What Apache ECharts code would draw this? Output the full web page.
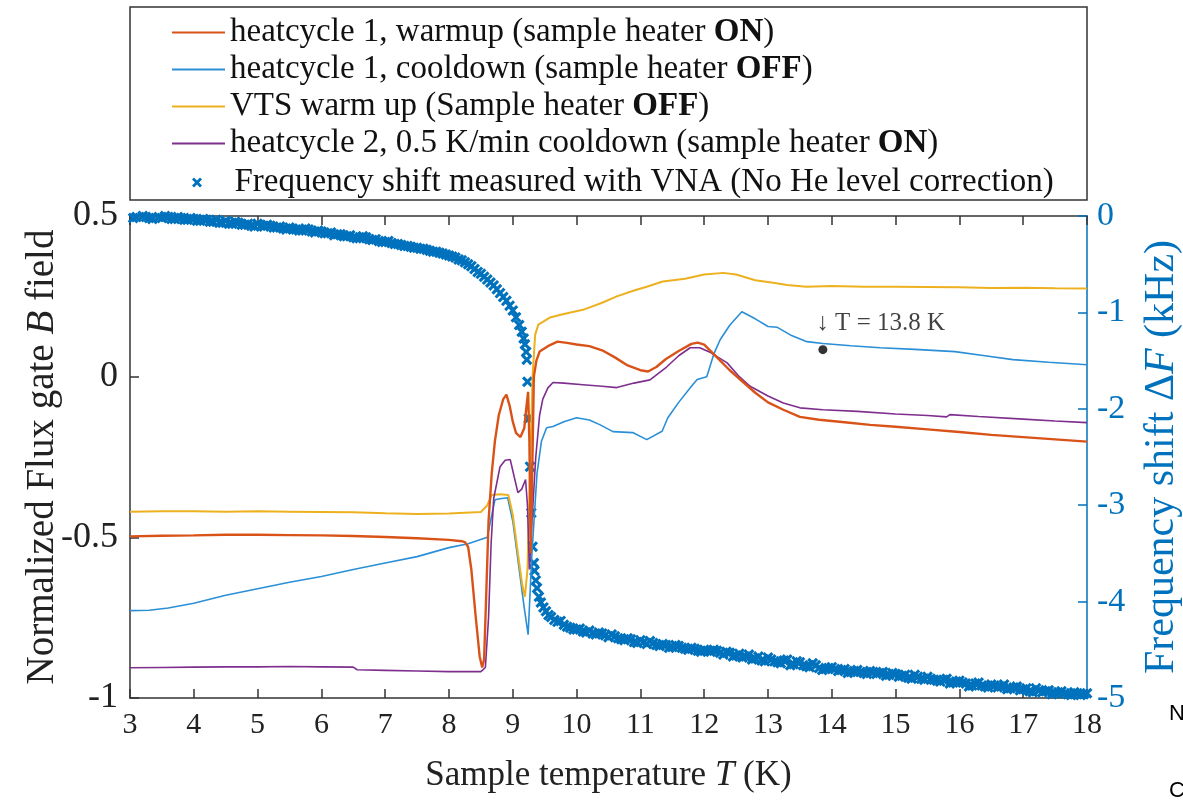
<!DOCTYPE html>
<html>
<head>
<meta charset="utf-8">
<script src="https://cdn.jsdelivr.net/npm/echarts@6/dist/echarts.min.js"></script>
<style>
html,body{margin:0;padding:0;background:#fff;}
#chart{width:1183px;height:803px;}
</style>
</head>
<body>
<div id="chart"></div>
<script>
// ---------- DATA ----------
const seriesNames = [
  'heatcycle 1, warmup (sample heater ON)',
  'heatcycle 1, cooldown (sample heater OFF)',
  'VTS warm up (Sample heater OFF)',
  'heatcycle 2, 0.5 K/min cooldown (sample heater ON)',
  'Frequency shift measured with VNA (No He level correction)'
];
const xTicks = [3,4,5,6,7,8,9,10,11,12,13,14,15,16,17,18];
const leftTicks = [-1,-0.5,0,0.5];
const rightTicks = [-5,-4,-3,-2,-1,0];

// heatcycle 1, warmup [T (K), normalized B]
const warmup1 = [[3.0,-0.497],[3.5,-0.495],[4.0,-0.494],[4.5,-0.492],[5.0,-0.492],[5.5,-0.493],[6.0,-0.494],[6.5,-0.496],[7.0,-0.499],[7.5,-0.503],[8.0,-0.508],[8.2,-0.512],[8.25,-0.515],[8.3,-0.53],[8.35,-0.6],[8.42,-0.75],[8.48,-0.87],[8.52,-0.905],[8.55,-0.88],[8.58,-0.7],[8.62,-0.45],[8.67,-0.3],[8.72,-0.2],[8.78,-0.12],[8.85,-0.07],[8.9,-0.056],[8.95,-0.09],[9.0,-0.14],[9.05,-0.175],[9.12,-0.188],[9.18,-0.16],[9.21,-0.1],[9.24,-0.047],[9.26,-0.2],[9.28,-0.55],[9.3,-0.35],[9.33,0.0],[9.37,0.05],[9.42,0.078],[9.55,0.095],[9.7,0.109],[9.85,0.105],[10.0,0.10],[10.2,0.095],[10.4,0.082],[10.6,0.06],[10.8,0.035],[11.0,0.02],[11.12,0.016],[11.25,0.03],[11.4,0.055],[11.6,0.08],[11.8,0.102],[11.9,0.106],[12.0,0.10],[12.2,0.06],[12.4,0.02],[12.6,-0.015],[12.8,-0.05],[13.0,-0.08],[13.24,-0.103],[13.5,-0.125],[13.8,-0.134],[14.2,-0.142],[14.6,-0.15],[15.0,-0.156],[15.5,-0.164],[16.0,-0.172],[16.5,-0.181],[17.0,-0.188],[17.5,-0.195],[18.0,-0.202]];

// heatcycle 1, cooldown
const cooldown1 = [[3.0,-0.728],[3.3,-0.727],[3.6,-0.72],[4.0,-0.705],[4.5,-0.68],[5.0,-0.66],[5.5,-0.64],[6.0,-0.622],[6.5,-0.60],[7.0,-0.58],[7.5,-0.56],[8.0,-0.532],[8.3,-0.52],[8.6,-0.50],[8.66,-0.44],[8.72,-0.383],[8.8,-0.38],[8.92,-0.377],[9.0,-0.45],[9.1,-0.6],[9.18,-0.72],[9.24,-0.803],[9.3,-0.55],[9.38,-0.3],[9.45,-0.2],[9.53,-0.159],[9.63,-0.155],[9.8,-0.14],[10.0,-0.128],[10.2,-0.135],[10.37,-0.15],[10.57,-0.171],[10.88,-0.174],[11.1,-0.196],[11.34,-0.17],[11.43,-0.128],[11.6,-0.08],[11.8,-0.03],[11.89,-0.009],[12.04,0.0],[12.15,0.07],[12.25,0.115],[12.4,0.16],[12.59,0.202],[12.8,0.18],[13.0,0.156],[13.14,0.154],[13.35,0.13],[13.61,0.109],[13.86,0.103],[14.3,0.096],[14.76,0.09],[15.3,0.085],[15.93,0.078],[16.4,0.065],[16.84,0.053],[17.4,0.045],[18.0,0.037]];

// VTS warm up
const vtsWarm = [[3.0,-0.42],[3.5,-0.419],[4.0,-0.419],[4.5,-0.42],[5.0,-0.419],[5.5,-0.42],[6.0,-0.421],[6.5,-0.422],[7.0,-0.425],[7.5,-0.427],[8.0,-0.426],[8.5,-0.421],[8.6,-0.4],[8.67,-0.368],[8.8,-0.366],[8.93,-0.368],[9.0,-0.43],[9.08,-0.55],[9.15,-0.65],[9.19,-0.685],[9.23,-0.6],[9.27,-0.3],[9.31,0.0],[9.35,0.13],[9.4,0.162],[9.58,0.184],[9.8,0.195],[10.1,0.208],[10.4,0.23],[10.63,0.25],[10.9,0.268],[11.1,0.28],[11.35,0.296],[11.7,0.305],[12.0,0.318],[12.3,0.323],[12.5,0.318],[12.8,0.3],[13.08,0.292],[13.3,0.285],[13.6,0.28],[14.0,0.282],[14.5,0.28],[15.0,0.28],[15.5,0.279],[16.0,0.278],[16.5,0.276],[17.0,0.277],[17.5,0.275],[18.0,0.274]];

// heatcycle 2, 0.5 K/min cooldown
const cooldown2 = [[3.0,-0.906],[3.5,-0.905],[4.0,-0.904],[4.5,-0.903],[5.0,-0.903],[5.5,-0.902],[6.0,-0.903],[6.5,-0.904],[6.56,-0.912],[7.0,-0.914],[7.5,-0.916],[8.0,-0.918],[8.5,-0.918],[8.57,-0.905],[8.62,-0.75],[8.66,-0.52],[8.7,-0.38],[8.8,-0.28],[8.88,-0.26],[8.96,-0.258],[9.02,-0.31],[9.08,-0.361],[9.14,-0.35],[9.2,-0.32],[9.23,-0.4],[9.26,-0.6],[9.3,-0.45],[9.36,-0.25],[9.42,-0.12],[9.47,-0.07],[9.55,-0.035],[9.63,-0.018],[9.8,-0.02],[10.1,-0.025],[10.4,-0.03],[10.63,-0.034],[10.9,-0.02],[11.15,-0.01],[11.41,0.03],[11.6,0.065],[11.78,0.09],[11.93,0.09],[12.1,0.075],[12.36,0.043],[12.55,0.0],[12.72,-0.03],[13.0,-0.06],[13.24,-0.082],[13.5,-0.097],[13.86,-0.103],[14.4,-0.108],[15.0,-0.116],[15.5,-0.121],[15.8,-0.125],[15.85,-0.118],[16.3,-0.124],[17.0,-0.132],[17.5,-0.138],[18.0,-0.143]];

// Frequency shift (kHz), right axis -- readings on the 0.1 K steps
const freqShift = [[3.0,0.01],[3.1,-0.01],[3.2,0.0],[3.3,-0.02],[3.4,0.01],[3.5,-0.02],[3.6,-0.01],[3.7,-0.03],[3.8,-0.02],[3.9,-0.04],[4.0,-0.03],[4.1,-0.05],[4.2,-0.04],[4.3,-0.06],[4.4,-0.07],[4.5,-0.05],[4.6,-0.08],[4.7,-0.07],[4.8,-0.09],[4.9,-0.10],[5.0,-0.08],[5.1,-0.11],[5.2,-0.10],[5.3,-0.12],[5.4,-0.13],[5.5,-0.12],[5.6,-0.14],[5.7,-0.15],[5.8,-0.14],[5.9,-0.17],[6.0,-0.16],[6.1,-0.18],[6.2,-0.20],[6.3,-0.19],[6.4,-0.21],[6.5,-0.22],[6.6,-0.23],[6.7,-0.22],[6.8,-0.25],[6.9,-0.26],[7.0,-0.27],[7.1,-0.28],[7.2,-0.29],[7.3,-0.31],[7.4,-0.32],[7.5,-0.33],[7.6,-0.34],[7.7,-0.36],[7.8,-0.37],[7.9,-0.39],[8.0,-0.41],[8.1,-0.43],[8.2,-0.46],[8.3,-0.50],[8.4,-0.55],[8.5,-0.60],[8.6,-0.66],[8.7,-0.72],[8.75,-0.76],[8.8,-0.80],[8.85,-0.84],[8.9,-0.88],[8.95,-0.93],[9.0,-0.98],[9.05,-1.05],[9.1,-1.13],[9.14,-1.20],[9.17,-1.27],[9.19,-1.33],[9.21,-1.41],[9.22,-1.49],[9.23,-1.72],[9.25,-2.10],[9.27,-2.60],[9.29,-3.08],[9.31,-3.43],[9.33,-3.60],[9.34,-3.68],[9.36,-3.78],[9.38,-3.86],[9.41,-3.95],[9.44,-4.01],[9.48,-4.06],[9.52,-4.10],[9.56,-4.14],[9.6,-4.16],[9.65,-4.19],[9.7,-4.21],[9.75,-4.20],[9.8,-4.24],[9.9,-4.27],[10.0,-4.29],[10.1,-4.31],[10.2,-4.30],[10.3,-4.34],[10.4,-4.33],[10.5,-4.37],[10.6,-4.36],[10.7,-4.39],[10.8,-4.38],[10.9,-4.42],[11.0,-4.40],[11.1,-4.44],[11.2,-4.43],[11.3,-4.46],[11.4,-4.45],[11.5,-4.47],[11.6,-4.46],[11.7,-4.49],[11.8,-4.48],[11.9,-4.51],[12.0,-4.50],[12.1,-4.52],[12.2,-4.51],[12.3,-4.55],[12.4,-4.53],[12.5,-4.56],[12.6,-4.58],[12.7,-4.55],[12.8,-4.59],[12.9,-4.61],[13.0,-4.58],[13.1,-4.62],[13.2,-4.64],[13.3,-4.60],[13.4,-4.65],[13.5,-4.63],[13.6,-4.67],[13.7,-4.64],[13.8,-4.69],[13.9,-4.70],[14.0,-4.68],[14.1,-4.72],[14.2,-4.70],[14.3,-4.73],[14.4,-4.71],[14.5,-4.74],[14.6,-4.72],[14.7,-4.75],[14.8,-4.73],[14.9,-4.76],[15.0,-4.75],[15.1,-4.77],[15.2,-4.79],[15.3,-4.76],[15.4,-4.80],[15.5,-4.78],[15.6,-4.81],[15.7,-4.83],[15.8,-4.80],[15.9,-4.84],[16.0,-4.82],[16.1,-4.85],[16.2,-4.87],[16.3,-4.84],[16.4,-4.88],[16.5,-4.86],[16.6,-4.89],[16.7,-4.86],[16.8,-4.90],[16.9,-4.88],[17.0,-4.91],[17.1,-4.93],[17.2,-4.90],[17.3,-4.94],[17.4,-4.92],[17.5,-4.95],[17.6,-4.93],[17.7,-4.96],[17.8,-4.94],[17.9,-4.97],[18.0,-4.95]];

// Frequency shift (kHz) -- readings between the 0.1 K steps
const freqShiftMid = [[3.05,-0.02],[3.15,0.01],[3.25,-0.01],[3.35,-0.03],[3.45,-0.01],[3.55,0.00],[3.65,-0.03],[3.75,-0.01],[3.85,-0.04],[3.95,-0.02],[4.05,-0.05],[4.15,-0.03],[4.25,-0.06],[4.35,-0.04],[4.45,-0.07],[4.55,-0.08],[4.65,-0.06],[4.75,-0.09],[4.85,-0.08],[4.95,-0.11],[5.05,-0.10],[5.15,-0.09],[5.25,-0.12],[5.35,-0.11],[5.45,-0.14],[5.55,-0.13],[5.65,-0.15],[5.75,-0.13],[5.85,-0.16],[5.95,-0.15],[6.05,-0.18],[6.15,-0.17],[6.25,-0.19],[6.35,-0.21],[6.45,-0.20],[6.55,-0.23],[6.65,-0.21],[6.75,-0.24],[6.85,-0.24],[6.95,-0.27],[7.05,-0.26],[7.15,-0.29],[7.25,-0.30],[7.35,-0.31],[7.45,-0.33],[7.55,-0.34],[7.65,-0.35],[7.75,-0.37],[7.85,-0.38],[7.95,-0.40],[8.05,-0.42],[8.15,-0.45],[8.25,-0.48],[8.35,-0.52],[8.45,-0.58],[8.55,-0.63],[8.65,-0.69],[9.85,-4.26],[9.95,-4.29],[10.05,-4.28],[10.15,-4.32],[10.25,-4.33],[10.35,-4.32],[10.45,-4.35],[10.55,-4.34],[10.65,-4.38],[10.75,-4.40],[10.85,-4.39],[10.95,-4.43],[11.05,-4.42],[11.15,-4.41],[11.25,-4.45],[11.35,-4.44],[11.45,-4.48],[11.55,-4.45],[11.65,-4.48],[11.75,-4.50],[11.85,-4.49],[11.95,-4.52],[12.05,-4.51],[12.15,-4.50],[12.25,-4.53],[12.35,-4.52],[12.45,-4.57],[12.55,-4.54],[12.65,-4.57],[12.75,-4.60],[12.85,-4.57],[12.95,-4.62],[13.05,-4.60],[13.15,-4.63],[13.25,-4.61],[13.35,-4.66],[13.45,-4.62],[13.55,-4.66],[13.65,-4.68],[13.75,-4.66],[13.85,-4.71],[13.95,-4.69],[14.05,-4.70],[14.15,-4.71],[14.25,-4.74],[14.35,-4.72],[14.45,-4.73],[14.55,-4.75],[14.65,-4.73],[14.75,-4.74],[14.85,-4.77],[14.95,-4.74],[15.05,-4.78],[15.15,-4.76],[15.25,-4.80],[15.35,-4.78],[15.45,-4.81],[15.55,-4.80],[15.65,-4.82],[15.75,-4.81],[15.85,-4.85],[15.95,-4.83],[16.05,-4.84],[16.15,-4.88],[16.25,-4.85],[16.35,-4.87],[16.45,-4.89],[16.55,-4.87],[16.65,-4.88],[16.75,-4.91],[16.85,-4.89],[16.95,-4.92],[17.05,-4.90],[17.15,-4.94],[17.25,-4.92],[17.35,-4.93],[17.45,-4.96],[17.55,-4.94],[17.65,-4.95],[17.75,-4.97],[17.85,-4.95],[17.95,-4.96]];

// annotated point at T = 13.8 K
const markerPoint = [[13.86, 0.084]];
const markerText = '\u2193 T = 13.8 K';

// ---------- STYLE ----------
const SERIF = "'Liberation Serif', 'Times New Roman', serif";
const C_ORANGE = '#D95319', C_BLUE = '#2a8fd6', C_YELLOW = '#EDB120', C_PURPLE = '#7E2F8E', C_SCAT = '#0072BD';
const xMark = 'path://M0,2L2,0L5,3L8,0L10,2L7,5L10,8L8,10L5,7L2,10L0,8L3,5Z';
const LEG_FONT = 33;

function legendText(padLeft) {
  return {
    fontFamily: SERIF, fontSize: LEG_FONT, color: '#111', lineHeight: 37, padding: [0, 0, 0, padLeft],
    rich: {b: {fontFamily: SERIF, fontSize: LEG_FONT, fontWeight: 'bold', color: '#111', lineHeight: 37}}
  };
}
const boldFmt = function (name) { return name.replace(/(ON|OFF)\)$/, '{b|$1})'); };

const chart = echarts.init(document.getElementById('chart'), null, {renderer: 'canvas'});

const option = {
  animation: false,
  backgroundColor: '#fff',
  grid: {left: 130, right: 96, top: 216, bottom: 105, containLabel: false, outerBoundsMode: 'none'},
  legend: [
    {orient: 'vertical', left: 172, top: 14, padding: 0,
     itemWidth: 53, itemHeight: 2, itemGap: 0, icon: 'rect',
     data: seriesNames.slice(0, 4), formatter: boldFmt, textStyle: legendText(0)},
    {orient: 'vertical', left: 192, top: 164, padding: 0,
     itemWidth: 47, itemHeight: 10, itemGap: 0,
     data: seriesNames.slice(4), formatter: boldFmt, textStyle: legendText(9)}
  ],
  graphic: [
    {type: 'rect', shape: {x: 130, y: 7, width: 957, height: 193},
     style: {fill: 'none', stroke: '#333', lineWidth: 1.5}, z: 0},
    {type: 'text', left: 1169, top: 703, style: {text: 'N', fontFamily: "'Liberation Sans', sans-serif", fontSize: 22, fill: '#000'}},
    {type: 'text', left: 1169, top: 780, style: {text: 'C', fontFamily: "'Liberation Sans', sans-serif", fontSize: 22, fill: '#000'}}
  ],
  xAxis: [
    {type: 'value', min: xTicks[0], max: xTicks[xTicks.length-1], interval: 1, position: 'bottom',
     name: 'Sample temperature {i|T} (K)', nameLocation: 'middle', nameGap: 60,
     nameTextStyle: {fontFamily: SERIF, fontSize: 35, color: '#222', rich: {i: {fontFamily: SERIF, fontSize: 35, fontStyle: 'italic', color: '#222'}}},
     axisLine: {show: true, onZero: false, lineStyle: {color: '#333', width: 1.5}},
     axisTick: {inside: true, length: 9, lineStyle: {color: '#333', width: 1.5}},
     axisLabel: {fontFamily: SERIF, fontSize: 30, color: '#222', margin: 12},
     splitLine: {show: false}},
    {type: 'value', min: xTicks[0], max: xTicks[xTicks.length-1], interval: 1, position: 'top',
     axisLine: {show: true, onZero: false, lineStyle: {color: '#333', width: 1.5}},
     axisTick: {inside: true, length: 9, lineStyle: {color: '#333', width: 1.5}},
     axisLabel: {show: false}, splitLine: {show: false}}
  ],
  yAxis: [
    {type: 'value', min: leftTicks[0], max: leftTicks[leftTicks.length-1], interval: 0.5, position: 'left',
     name: 'Normalized Flux gate {i|B} field', nameLocation: 'middle', nameGap: 68, nameRotate: 90,
     nameMoveOverlap: false,
     nameTextStyle: {fontFamily: SERIF, fontSize: 39, color: '#222', rich: {i: {fontFamily: SERIF, fontSize: 39, fontStyle: 'italic', color: '#222'}}},
     axisLine: {show: true, onZero: false, lineStyle: {color: '#333', width: 1.5}},
     axisTick: {inside: true, length: 9, lineStyle: {color: '#333', width: 1.5}},
     axisLabel: {fontFamily: SERIF, fontSize: 36, color: '#222', margin: 12,
       formatter: function (v) { return String(v); }},
     splitLine: {show: false}},
    {type: 'value', min: rightTicks[0], max: rightTicks[rightTicks.length-1], interval: 1, position: 'right',
     name: 'Frequency shift \u0394{i|F} (kHz)', nameLocation: 'middle', nameGap: 54, nameRotate: 90,
     nameMoveOverlap: false,
     nameTextStyle: {fontFamily: SERIF, fontSize: 42, color: C_SCAT,
       rich: {i: {fontFamily: SERIF, fontSize: 42, fontStyle: 'italic', color: C_SCAT}}},
     axisLine: {show: true, onZero: false, lineStyle: {color: C_SCAT, width: 1.5}},
     axisTick: {inside: true, length: 9, lineStyle: {color: C_SCAT, width: 1.5}},
     axisLabel: {fontFamily: SERIF, fontSize: 34, color: C_SCAT, margin: 10},
     splitLine: {show: false}}
  ],
  series: [
    {name: seriesNames[0], type: 'line', data: warmup1, xAxisIndex: 0, yAxisIndex: 0, symbol: 'none',
     lineStyle: {color: C_ORANGE, width: 2.4}, itemStyle: {color: C_ORANGE}, z: 4},
    {name: seriesNames[1], type: 'line', data: cooldown1, xAxisIndex: 0, yAxisIndex: 0, symbol: 'none',
     lineStyle: {color: C_BLUE, width: 1.6}, itemStyle: {color: C_BLUE}, z: 3},
    {name: seriesNames[2], type: 'line', data: vtsWarm, xAxisIndex: 0, yAxisIndex: 0, symbol: 'none',
     lineStyle: {color: C_YELLOW, width: 2}, itemStyle: {color: C_YELLOW}, z: 3},
    {name: seriesNames[3], type: 'line', data: cooldown2, xAxisIndex: 0, yAxisIndex: 0, symbol: 'none',
     lineStyle: {color: C_PURPLE, width: 1.6}, itemStyle: {color: C_PURPLE}, z: 3},
    {name: seriesNames[4], type: 'scatter', data: freqShift.concat(freqShiftMid), xAxisIndex: 0, yAxisIndex: 1,
     symbol: xMark, symbolSize: 11, symbolKeepAspect: true,
     itemStyle: {color: C_SCAT, opacity: 1}, z: 2},
    {name: 'marker', type: 'scatter', data: markerPoint, xAxisIndex: 0, yAxisIndex: 0,
     symbol: 'circle', symbolSize: 9, itemStyle: {color: '#000'}, z: 6,
     label: {show: true, formatter: markerText, position: [-2, -34], align: 'left', verticalAlign: 'top',
       fontFamily: SERIF, fontSize: 25, color: '#111'}}
  ]
};
chart.setOption(option);
</script>
</body>
</html>
